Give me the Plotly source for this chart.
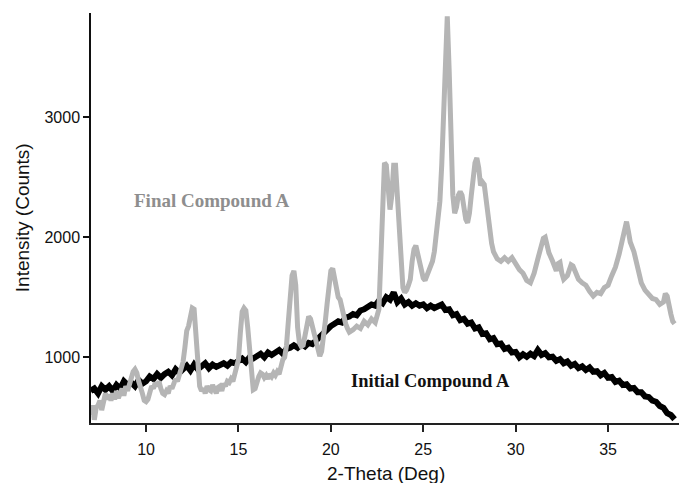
import plotly.graph_objects as go

# Final Compound A (gray)
final_x = [7.0, 7.1, 7.2, 7.3, 7.4, 7.5, 7.6, 7.7, 7.8, 7.9, 8.0, 8.1, 8.2, 8.3, 8.4, 8.5, 8.6, 8.7, 8.8, 8.9,
           9.0, 9.1, 9.2, 9.3, 9.4, 9.5, 9.6, 9.7, 9.8, 9.9, 10.0, 10.1, 10.2, 10.3, 10.4, 10.5, 10.6, 10.7, 10.8, 10.9,
           11.0, 11.1, 11.2, 11.3, 11.4, 11.5, 11.6, 11.7, 11.8, 11.9, 12.0, 12.1, 12.2, 12.3, 12.4, 12.5, 12.6, 12.7, 12.8, 12.9,
           13.0, 13.1, 13.2, 13.3, 13.4, 13.5, 13.6, 13.7, 13.8, 13.9, 14.0, 14.1, 14.2, 14.3, 14.4, 14.5, 14.6, 14.7, 14.8, 14.9,
           15.0, 15.1, 15.2, 15.3, 15.4, 15.5, 15.6, 15.7, 15.8, 15.9, 16.0, 16.1, 16.2, 16.3, 16.4, 16.5, 16.6, 16.7, 16.8, 16.9,
           17.0, 17.1, 17.2, 17.3, 17.4, 17.5, 17.6, 17.7, 17.8, 17.9, 18.0, 18.1, 18.2, 18.3, 18.4, 18.5, 18.6, 18.7, 18.8, 18.9,
           19.0, 19.1, 19.2, 19.3, 19.4, 19.5, 19.6, 19.7, 19.8, 19.9, 20.0, 20.1, 20.2, 20.3, 20.4, 20.5, 20.6, 20.7, 20.8, 20.9,
           21.0, 21.2, 21.4, 21.6, 21.8, 22.0, 22.2, 22.4, 22.6, 22.7, 22.8, 22.9, 23.0, 23.1, 23.2, 23.3, 23.4, 23.5, 23.6, 23.7,
           23.8, 23.9, 24.0, 24.1, 24.2, 24.3, 24.4, 24.5, 24.6, 24.7, 24.8, 24.9, 25.0, 25.1, 25.2, 25.3, 25.4, 25.5, 25.6, 25.7,
           25.8, 25.9, 26.0, 26.1, 26.2, 26.3, 26.4, 26.5, 26.6, 26.7, 26.8, 26.9, 27.0, 27.1, 27.2, 27.3, 27.4, 27.5, 27.6, 27.7,
           27.8, 27.9, 28.0, 28.1, 28.2, 28.3, 28.4, 28.5, 28.6, 28.7, 28.8, 28.9, 29.0, 29.2, 29.4, 29.6, 29.8, 30.0, 30.2, 30.4,
           30.6, 30.8, 31.0, 31.2, 31.4, 31.5, 31.6, 31.7, 31.8, 32.0, 32.1, 32.2, 32.3, 32.4, 32.5, 32.6, 32.8, 33.0, 33.1, 33.2,
           33.4, 33.6, 33.8, 34.0, 34.2, 34.4, 34.6, 34.8, 35.0, 35.2, 35.4, 35.6, 35.8, 35.9, 36.0, 36.1, 36.2, 36.4, 36.6, 36.8,
           37.0, 37.2, 37.4, 37.6, 37.8, 38.0, 38.1, 38.2, 38.3, 38.4, 38.5, 38.6]
final_y = [520, 600, 480, 580, 600, 640, 560, 620, 700, 650, 690, 640, 700, 650, 720, 660, 700, 740, 680, 760,
           720, 780, 820, 880, 900, 870, 800, 760, 700, 640, 630, 650, 700, 760, 740, 790, 760, 800, 740, 700,
           690, 720, 700, 760, 740, 790, 820, 800, 860, 880, 960, 1080, 1220, 1260, 1330, 1410, 1400, 1150, 900, 760,
           720, 740, 700, 760, 730, 720, 770, 740, 700, 750, 760, 720, 780, 760, 800, 790, 820, 800, 860, 900,
           980, 1200, 1380, 1410, 1390, 1250, 1080, 860, 730, 740, 800, 840, 870, 860, 830, 850, 820, 860, 840, 870,
           850, 880, 860, 950, 980, 1000, 1100, 1300, 1500, 1680, 1720, 1600, 1250, 1120, 1090, 1100, 1180, 1280, 1340, 1320,
           1250, 1180, 1150, 1060, 1010, 1050, 1150, 1300, 1450, 1600, 1720, 1740, 1650, 1560, 1500, 1480, 1400, 1350, 1280, 1240,
           1210, 1230, 1260, 1240, 1300, 1270, 1320, 1290, 1400, 1800, 2300, 2620, 2600, 2400, 2230, 2350, 2600, 2600, 2350, 2000,
           1750, 1580, 1540, 1560, 1600, 1650, 1800, 1900, 1930, 1860, 1780, 1700, 1660, 1640, 1680, 1700, 1750, 1800, 1880, 2000,
           2150, 2300, 2600, 3100, 3600, 3840, 3400, 2700, 2350, 2200, 2250, 2350, 2380, 2350, 2200, 2150, 2120, 2200, 2350, 2500,
           2620, 2660, 2580, 2430, 2460, 2440, 2300, 2150, 2020, 1950, 1880, 1840, 1820, 1800, 1830, 1800, 1830, 1780, 1730, 1700,
           1640, 1620, 1700, 1820, 1920, 1990, 2000, 1940, 1870, 1800, 1740, 1720, 1780, 1790, 1700, 1650, 1680, 1770, 1760, 1720,
           1650, 1620, 1600, 1550, 1510, 1540, 1530, 1580, 1600, 1680, 1750, 1860, 2000, 2100, 2130, 2050, 1960, 1880, 1730, 1620,
           1560, 1520, 1490, 1480, 1440, 1460, 1530, 1510, 1400, 1360, 1300, 1280]

# Initial Compound A (black)
initial_x = [7.0, 7.2, 7.4, 7.6, 7.8, 8.0, 8.2, 8.4, 8.6, 8.8, 9.0, 9.2, 9.4, 9.6, 9.8, 10.0, 10.2, 10.4, 10.6, 10.8,
             11.0, 11.2, 11.4, 11.6, 11.8, 12.0, 12.2, 12.4, 12.6, 12.8, 13.0, 13.2, 13.4, 13.6, 13.8, 14.0, 14.2, 14.4, 14.6, 14.8,
             15.0, 15.2, 15.4, 15.6, 15.8, 16.0, 16.2, 16.4, 16.6, 16.8, 17.0, 17.2, 17.4, 17.6, 17.8, 18.0, 18.2, 18.4, 18.6, 18.8,
             19.0, 19.2, 19.4, 19.6, 19.8, 20.0, 20.2, 20.4, 20.6, 20.8, 21.0, 21.2, 21.4, 21.6, 21.8, 22.0, 22.2, 22.4, 22.6, 22.8,
             23.0, 23.2, 23.4, 23.6, 23.8, 24.0, 24.2, 24.4, 24.6, 24.8, 25.0, 25.2, 25.4, 25.6, 25.8, 26.0, 26.2, 26.4, 26.6, 26.8,
             27.0, 27.2, 27.4, 27.6, 27.8, 28.0, 28.2, 28.4, 28.6, 28.8, 29.0, 29.2, 29.4, 29.6, 29.8, 30.0, 30.2, 30.4, 30.6, 30.8,
             31.0, 31.2, 31.4, 31.6, 31.8, 32.0, 32.2, 32.4, 32.6, 32.8, 33.0, 33.2, 33.4, 33.6, 33.8, 34.0, 34.2, 34.4, 34.6, 34.8,
             35.0, 35.2, 35.4, 35.6, 35.8, 36.0, 36.2, 36.4, 36.6, 36.8, 37.0, 37.2, 37.4, 37.6, 37.8, 38.0, 38.2, 38.4, 38.6]
initial_y = [720, 740, 700, 760, 730, 760, 720, 770, 740, 800, 770, 790, 760, 810, 780, 800, 840, 820, 860, 830,
             860, 880, 850, 900, 870, 900, 930, 890, 940, 900, 920, 950, 910, 940, 920, 930, 950, 930, 960, 950,
             970, 990, 960, 1000, 990, 1010, 1030, 1000, 1040, 1020, 1040, 1060, 1030, 1070, 1080, 1100, 1080, 1110, 1090, 1120,
             1110, 1140, 1180, 1200, 1230, 1260, 1280, 1300, 1290, 1330, 1340, 1360, 1350, 1390, 1400, 1420, 1440, 1430, 1470, 1450,
             1500, 1480, 1540, 1460, 1490, 1440, 1460, 1430, 1450, 1430, 1440, 1410, 1430, 1410, 1420, 1440, 1395, 1400, 1350, 1360,
             1310, 1320, 1280, 1290, 1240, 1250, 1195, 1200, 1150, 1160, 1110, 1115, 1070, 1080, 1040, 1045, 1000, 1025, 1005, 1030,
             1010, 1060, 1020, 1035, 1000, 1005, 970, 985, 950, 965, 930, 945, 910, 925, 895, 915, 880, 885, 850, 870,
             830, 835, 795, 805, 770, 775, 740, 745, 710, 710, 675, 670, 640, 630, 595, 580, 535, 520, 485]

x_ticks = [10, 15, 20, 25, 30, 35]
y_ticks = [1000, 2000, 3000]
x_range = [7.02, 38.84]
y_range = [453, 3867]

fig = go.Figure()
fig.add_trace(go.Scatter(x=initial_x, y=initial_y, mode="lines", name="Initial Compound A",
                         line=dict(color="#000000", width=6)))
fig.add_trace(go.Scatter(x=final_x, y=final_y, mode="lines", name="Final Compound A",
                         line=dict(color="#b5b5b5", width=5)))

fig.add_annotation(x=13.52, y=2306, xref="x", yref="y", text="<b>Final Compound A</b>",
                   showarrow=False, font=dict(family="Liberation Serif, Times New Roman, serif", size=19, color="#8e8e8e"))
fig.add_annotation(x=25.37, y=800, xref="x", yref="y", text="<b>Initial Compound A</b>",
                   showarrow=False, font=dict(family="Liberation Serif, Times New Roman, serif", size=18.5, color="#111111"))
fig.add_annotation(x=0.502, y=-0.122, xref="paper", yref="paper", xanchor="center", yanchor="middle",
                   text="2-Theta (Deg)", showarrow=False,
                   font=dict(family="Liberation Sans, Arial, sans-serif", size=19, color="#111111"))
fig.add_annotation(x=-0.117, y=0.5, xref="paper", yref="paper", xanchor="center", yanchor="middle",
                   text="Intensity (Counts)", textangle=-90, showarrow=False,
                   font=dict(family="Liberation Sans, Arial, sans-serif", size=19, color="#111111"))

fig.update_layout(
    width=679, height=483,
    margin=dict(l=91, r=0, t=13, b=60),
    paper_bgcolor="white", plot_bgcolor="white",
    showlegend=False,
    font=dict(family="Liberation Sans, Arial, sans-serif", size=16, color="#111111"),
)
fig.update_xaxes(range=x_range, tickvals=x_ticks, showgrid=False, zeroline=False,
                 showline=True, linecolor="#222222", linewidth=1.5,
                 ticks="outside", ticklen=7, tickcolor="#222222", tickwidth=1.5,
                 ticklabelstandoff=4)
fig.update_yaxes(range=y_range, tickvals=y_ticks, showgrid=False, zeroline=False,
                 showline=True, linecolor="#111111", linewidth=1.5,
                 ticks="outside", ticklen=6, tickcolor="#111111", tickwidth=1.5)

fig.write_html("out.html")
